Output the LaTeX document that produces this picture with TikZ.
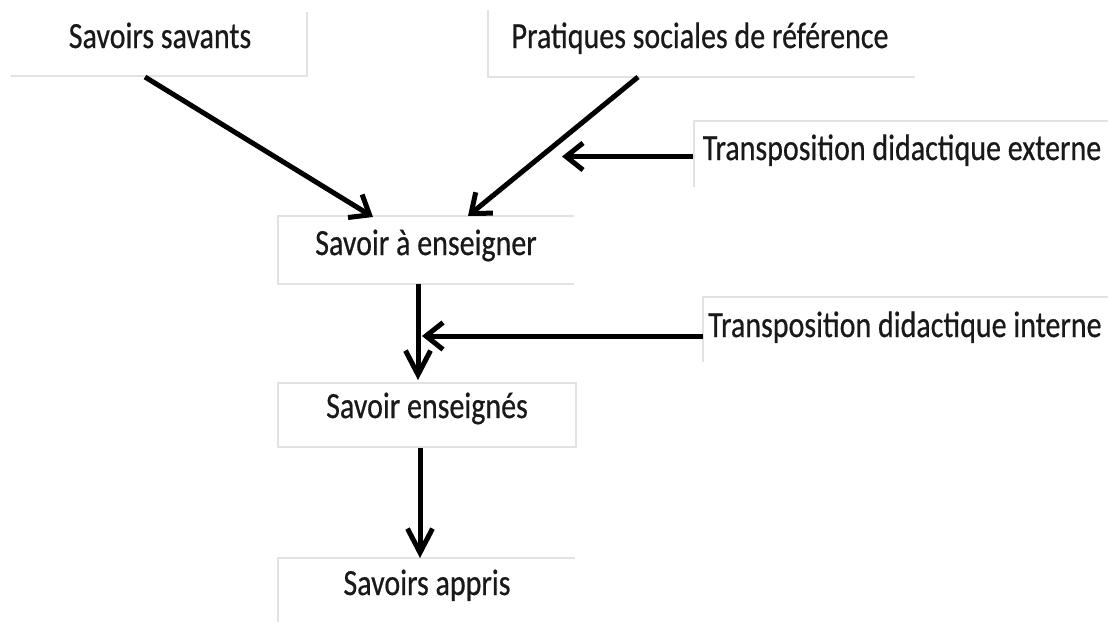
\documentclass[tikz,border=0pt]{standalone}
\usepackage{fontspec}
\setmainfont{Carlito}
\newfontfamily\lblfont[FakeBold=0.6]{Carlito}
\usetikzlibrary{arrows.meta}
\definecolor{edgegray}{HTML}{E2E2E2}
\tikzset{
  box/.style={rectangle, inner sep=0pt, outer sep=0pt},
  boxedge/.style={draw=edgegray, line width=1.6pt},
  lbl/.style={inner sep=0pt, anchor=base, font=\lblfont\fontsize{30}{36}\selectfont, text=black!90},
  arr/.style={line width=5pt, -{Straight Barb[length=17pt,width=27pt]}},
  varr/.style={line width=5pt, -{Straight Barb[length=24pt,width=25pt]}}
}
\newcommand{\tallt}[1]{\scalebox{1}[1.23]{#1}}
\begin{document}
\begin{tikzpicture}[x=1pt,y=-1pt]
\useasboundingbox (0,0) rectangle (1108,622);
\fill[white] (0,0) rectangle (1108,622);
% boxes
\node[box, minimum width=296pt, minimum height=64pt] (b1) at (159,44) {};
\node[box, minimum width=427pt, minimum height=67pt] (b2) at (701.5,43.5) {};
\node[box, minimum width=414pt, minimum height=66pt] (b3) at (901,154) {};
\node[box, minimum width=296pt, minimum height=68pt] (b4) at (426,250) {};
\node[box, minimum width=405pt, minimum height=65pt] (b5) at (905.5,329.5) {};
\node[box, minimum width=298pt, minimum height=64pt] (b6) at (427,415) {};
\node[box, minimum width=297pt, minimum height=64pt] (b7) at (426.5,590) {};
% visible box edges
\draw[boxedge] (b1.north east) -- (b1.south east) -- (b1.south west);
\draw[boxedge] (b2.north west) -- (b2.south west) -- (b2.south east);
\draw[boxedge] (b3.south west) -- (b3.north west) -- (b3.north east);
\draw[boxedge] (b4.north east) -- (b4.north west) -- (b4.south west) -- (b4.south east);
\draw[boxedge] (b5.south west) -- (b5.north west) -- (b5.north east);
\draw[boxedge] (b6.north west) rectangle (b6.south east);
\draw[boxedge] (b7.south west) -- (b7.north west) -- (b7.north east);
% labels
\node[lbl] (t1) at (160,48) {\tallt{Savoirs savants}};
\node[lbl] (t2) at (700,48) {\tallt{Pratiques sociales de référence}};
\node[lbl] (t3) at (902,160) {\tallt{Transposition didactique externe}};
\node[lbl] (t4) at (426,255) {\tallt{Savoir à enseigner}};
\node[lbl] (t5) at (905,337) {\tallt{Transposition didactique interne}};
\node[lbl] (t6) at (427,418) {\tallt{Savoir enseignés}};
\node[lbl] (t7) at (427,595) {\tallt{Savoirs appris}};
% connector end points
\coordinate (a1s) at (145,77);
\coordinate (a1e) at (373,217);
\coordinate (a2s) at (638,77);
\coordinate (a2e) at (468,216);
\coordinate (a3s) at (693,156.5);
\coordinate (a3e) at (562,156.5);
\coordinate (a4s) at (418,284);
\coordinate (a4e) at (418,380);
\coordinate (a5s) at (703,336);
\coordinate (a5e) at (422,336);
\coordinate (a6s) at (420,448);
\coordinate (a6e) at (420,558);
% connectors
\draw[arr] (a1s) -- (a1e);
\draw[arr] (a2s) -- (a2e);
\draw[arr] (a3s) -- (a3e);
\draw[varr] (a4s) -- (a4e);
\draw[arr] (a5s) -- (a5e);
\draw[varr] (a6s) -- (a6e);
\end{tikzpicture}
\end{document}
